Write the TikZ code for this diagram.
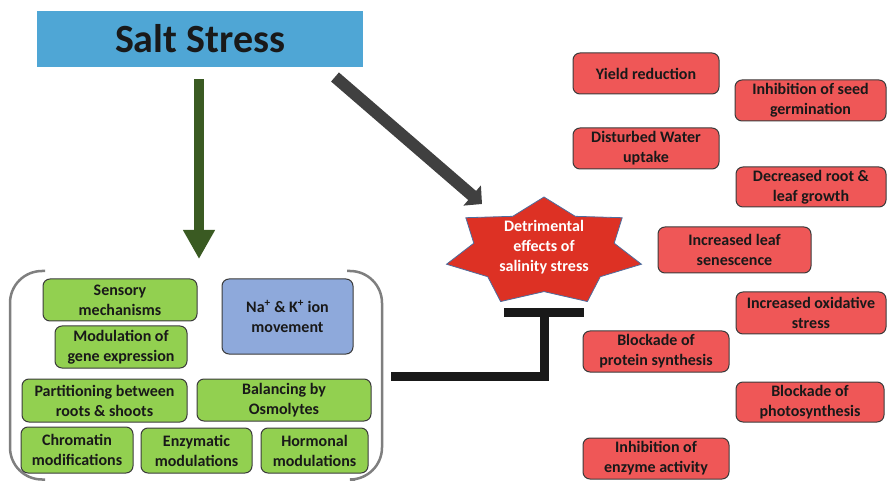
\documentclass[tikz,border=0pt]{standalone}
\usepackage{fontspec}
\setmainfont{Carlito}
\usetikzlibrary{arrows.meta}

\definecolor{saltblue}{HTML}{4FA6D5}
\definecolor{effectred}{HTML}{EF5757}
\definecolor{copegreen}{HTML}{92D050}
\definecolor{ionblue}{HTML}{8EA9DB}
\definecolor{starred}{HTML}{DD3124}
\definecolor{staredge}{HTML}{4E6D9E}
\definecolor{boxedge}{HTML}{3B3B3B}
\definecolor{cagegray}{HTML}{7F7F7F}
\definecolor{arrowgreen}{HTML}{3A5A22}
\definecolor{arrowdark}{HTML}{404040}

\begin{document}
\begin{tikzpicture}[
  x=1pt, y=-1pt,
  every node/.style={font=\fontsize{16}{20}\selectfont\bfseries, text=black!90, align=center, inner sep=0pt},
  effect/.style={draw=boxedge, line width=1pt, fill=effectred, rounded corners=7pt},
  cope/.style={draw=boxedge, line width=1pt, fill=copegreen, rounded corners=7pt},
  cage/.style={draw=cagegray, line width=2.5pt, rounded corners=32pt},
  harmstar/.style={fill=starred, draw=staredge, line width=0.8pt},
  inhibit/.style={draw=black!90, line width=9pt},
  bigarrow/.style={line width=#1, -{Triangle[length=13pt,width=26pt]}}
  ]
\useasboundingbox (0,0) rectangle (887,481);

% title
\node [fill=saltblue, minimum width=326pt, minimum height=56pt, font=\fontsize{40}{48}\selectfont\bfseries] (salt) at (200,39) {Salt Stress};

% effects of salinity
\draw [harmstar] plot [samples at={0,...,13}]
  ({544+(1-0.28*mod(\x,2))*100*cos(90+\x*180/7)}, {252-(1-0.28*mod(\x,2))*55*sin(90+\x*180/7)}) -- cycle;
\node [text=white] (harm) at (544,247) {Detrimental\\effects of\\salinity stress};

\node [effect, minimum width=146pt, minimum height=41pt] (yield) at (646,73.5) {Yield reduction};
\node [effect, minimum width=151pt, minimum height=41pt] (seed) at (810.5,100.5) {Inhibition of seed\\germination};
\node [effect, minimum width=146pt, minimum height=41pt] (water) at (646,148.5) {Disturbed Water\\uptake};
\node [effect, minimum width=150pt, minimum height=40pt] (growth) at (811,187) {Decreased root \&\\leaf growth};
\node [effect, minimum width=153pt, minimum height=46pt] (senesc) at (734.5,250) {Increased leaf\\senescence};
\node [effect, minimum width=150pt, minimum height=42pt] (oxid) at (811,313) {Increased oxidative\\stress};
\node [effect, minimum width=146pt, minimum height=41pt] (protein) at (656,351.5) {Blockade of\\protein synthesis};
\node [effect, minimum width=148pt, minimum height=40pt] (photo) at (810,402) {Blockade of\\photosynthesis};
\node [effect, minimum width=146pt, minimum height=41pt] (enzyme) at (656,458.5) {Inhibition of\\enzyme activity};

% tolerance mechanisms
\draw [cage] (45,271) -- (10,271) -- (10,479.5) -- (45,479.5);
\draw [cage] (347,271) -- (382,271) -- (382,479.5) -- (355,479.5);

\node [cope, minimum width=154pt, minimum height=42pt] (sensory) at (120,300) {Sensory\\mechanisms};
\node [cope, minimum width=132pt, minimum height=42pt] (gene) at (121,347) {Modulation of\\gene expression};
\node [cope, fill=ionblue, minimum width=131pt, minimum height=75pt] (ion) at (287.5,316.5) {Na\textsuperscript{+} \& K\textsuperscript{+} ion\\movement};
\node [cope, minimum width=165pt, minimum height=43pt] (partition) at (104.5,400.5) {Partitioning between\\roots \& shoots};
\node [cope, minimum width=174pt, minimum height=42pt] (osmo) at (284,400) {Balancing by\\Osmolytes};
\node [cope, minimum width=112pt, minimum height=46pt] (chromatin) at (77,450) {Chromatin\\modifications};
\node [cope, minimum width=111pt, minimum height=45pt] (enzymatic) at (196.5,450.5) {Enzymatic\\modulations};
\node [cope, minimum width=107pt, minimum height=45pt] (hormonal) at (314.5,450.5) {Hormonal\\modulations};

% arrows
\coordinate (greentip) at (199,259);
\coordinate (darktail) at (335,77);
\coordinate (darktip) at (482,204);
\draw [bigarrow=10pt, arrowgreen, -{Triangle[length=29pt,width=30pt]}, shorten <=12pt] (salt.south -| greentip) -- (greentip);
\draw [bigarrow=12pt, arrowdark] (darktail) -- (darktip);

% inhibition
\coordinate (cageout) at (391,376.5);
\coordinate (tbar) at (544,312.5);
\draw [inhibit] (cageout) -| (tbar);
\draw [inhibit] ([xshift=-40pt]tbar) -- ([xshift=40pt]tbar);
\end{tikzpicture}
\end{document}
